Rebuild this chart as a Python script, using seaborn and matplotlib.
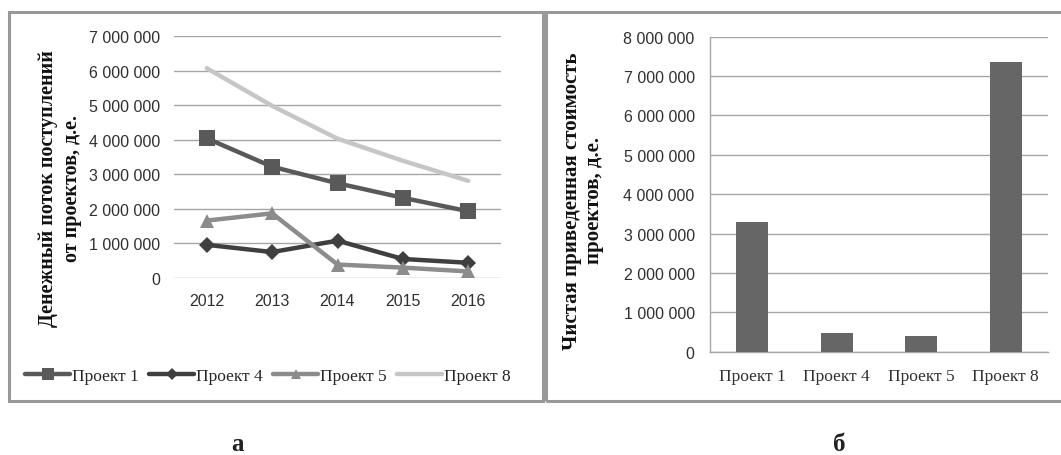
import matplotlib
matplotlib.use("Agg")
import matplotlib.pyplot as plt
from matplotlib.patches import Rectangle
from matplotlib.lines import Line2D
from matplotlib.ticker import FuncFormatter, FixedLocator
import seaborn as sns
import pandas as pd

# Cash inflows by year for each project, monetary units
years = ["2012", "2013", "2014", "2015", "2016"]
project_names = ["Проект 1", "Проект 4", "Проект 5", "Проект 8"]
inflow_p1 = [4040000, 3220000, 2740000, 2320000, 1930000]
inflow_p4 = [960000, 750000, 1080000, 550000, 440000]
inflow_p5 = [1660000, 1870000, 390000, 300000, 190000]
inflow_p8 = [6070000, 4980000, 4030000, 3390000, 2810000]

# Net present value of each project
npv_values = [3290000, 470000, 390000, 7350000]

line_colors = ["#595959", "#3f3f3f", "#8c8c8c", "#c6c6c6"]
line_markers = ["s", "D", "^", ""]
marker_sizes = [11, 8.5, 10, 0]
bar_color = "#666666"
grid_color = "#a6a6a6"
frame_color = "#999999"
tick_color = "#303030"

sns.set_theme(style="white")
plt.rcParams["font.family"] = ["Liberation Sans", "DejaVu Sans"]

W, H = 1061, 456
fig = plt.figure(figsize=(W / 100, H / 100), dpi=100)


def fx(px):
    return px / W


def fy(py):
    return 1 - py / H


# Frames around each panel
fig.patches.append(Rectangle((fx(8.5), fy(402)), fx(543 - 8.5), fy(12.5) - fy(402),
                             transform=fig.transFigure, fill=False,
                             edgecolor=frame_color, linewidth=2.2))
fig.patches.append(Rectangle((fx(545.5), fy(402)), fx(1070 - 545.5), fy(12.5) - fy(402),
                             transform=fig.transFigure, fill=False,
                             edgecolor=frame_color, linewidth=2.2))

sep = FuncFormatter(lambda v, p: f"{int(round(v)):,}".replace(",", " "))

# ---------- Panel a: cash inflows ----------
ax1 = fig.add_axes([fx(174), fy(279), fx(501 - 174), fy(37) - fy(279)])
df = pd.DataFrame({
    "year": years * 4,
    "value": inflow_p1 + inflow_p4 + inflow_p5 + inflow_p8,
    "project": sum([[n] * len(years) for n in project_names], []),
})
df["x"] = df["year"].map({y: i for i, y in enumerate(years)})

for name, col, mk, ms in zip(project_names, line_colors, line_markers, marker_sizes):
    sub = df[df["project"] == name]
    sns.lineplot(data=sub, x="x", y="value", ax=ax1, color=col, linewidth=3.2,
                 marker=mk if mk else None, markersize=ms, markeredgewidth=0,
                 legend=False, zorder=3 if name != "Проект 8" else 2)

ax1.set_xlim(-0.5, len(years) - 0.5)
ax1.set_ylim(0, 7000000)
ax1.set_xticks(range(len(years)))
ax1.set_xticklabels(years)
ax1.yaxis.set_major_locator(FixedLocator([i * 1000000 for i in range(8)]))
ax1.yaxis.set_major_formatter(sep)
ax1.grid(axis="y", color=grid_color, linewidth=1.0)
ax1.set_axisbelow(True)
for s in ax1.spines.values():
    s.set_visible(False)
ax1.tick_params(axis="both", length=0, labelsize=11.5, colors=tick_color)
ax1.tick_params(axis="y", pad=10)
ax1.tick_params(axis="x", pad=11)
ax1.set_xlabel("")
ax1.set_ylabel("")

fig.text(fx(60), fy(189), "Денежный поток поступлений\nот проектов, д.е.",
         rotation=90, ha="center", va="center", fontsize=14.5, fontweight="bold",
         family=["Liberation Serif", "DejaVu Serif"], linespacing=1.2, color="#111111")

handles = [Line2D([], [], color=c, linewidth=3.2, marker=m if m else None,
                  markersize=ms * 0.75, markeredgewidth=0)
           for c, m, ms in zip(line_colors, line_markers, marker_sizes)]
fig.legend(handles, project_names, loc="center", bbox_to_anchor=(fx(268), fy(377)),
           ncol=4, frameon=False, handlelength=2.6, handletextpad=0.1,
           columnspacing=0.6, prop={"family": "Liberation Serif", "size": 12.5})

# ---------- Panel б: net present value ----------
ax2 = fig.add_axes([fx(710), fy(352.7), fx(1048 - 710), fy(37.7) - fy(352.7)])
dfb = pd.DataFrame({"project": project_names, "npv": npv_values})
sns.barplot(data=dfb, x="project", y="npv", ax=ax2, color=bar_color,
            saturation=1, width=0.38, edgecolor="none", zorder=3)
ax2.set_xlim(-0.5, len(project_names) - 0.5)
ax2.set_ylim(0, 8000000)
ax2.yaxis.set_major_locator(FixedLocator([i * 1000000 for i in range(9)]))
ax2.yaxis.set_major_formatter(sep)
ax2.grid(axis="y", color=grid_color, linewidth=1.0)
ax2.set_axisbelow(True)
for k in ["top", "right"]:
    ax2.spines[k].set_visible(False)
for k in ["left", "bottom"]:
    ax2.spines[k].set_color(grid_color)
    ax2.spines[k].set_linewidth(1.0)
ax2.set_xticks([i - 0.5 for i in range(len(project_names) + 1)], minor=True)
ax2.tick_params(axis="x", which="minor", length=6, color=grid_color, width=1.0, direction="out")
ax2.tick_params(axis="x", which="major", length=0, pad=12)
ax2.tick_params(axis="both", labelsize=11.5, colors=tick_color)
ax2.tick_params(axis="y", length=0, pad=11)
for lbl in ax2.get_xticklabels():
    lbl.set_family(["Liberation Serif", "DejaVu Serif"])
    lbl.set_fontsize(12.5)
ax2.set_xlabel("")
ax2.set_ylabel("")

fig.text(fx(583), fy(201), "Чистая приведенная стоимость\nпроектов, д.е.",
         rotation=90, ha="center", va="center", fontsize=15, fontweight="bold",
         family=["Liberation Serif", "DejaVu Serif"], linespacing=1.2, color="#111111")

# Panel letters
for x, t in [(238, "а"), (839, "б")]:
    fig.text(fx(x), fy(451), t, ha="center", va="baseline", fontsize=18,
             fontweight="bold", family=["Liberation Serif", "DejaVu Serif"], color="#222222")

fig.savefig("out.png", dpi=100)
